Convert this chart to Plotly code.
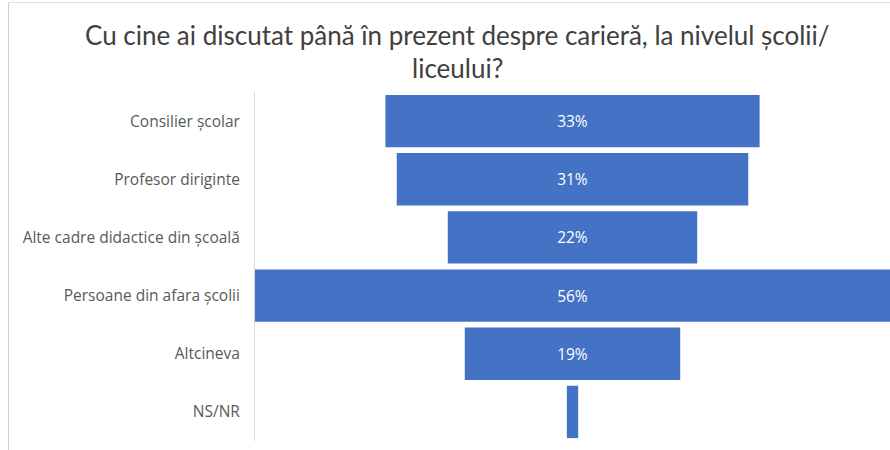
import plotly.graph_objects as go

categories = ["Consilier școlar", "Profesor diriginte", "Alte cadre didactice din școală",
              "Persoane din afara școlii", "Altcineva", "NS/NR"]
values = [33, 31, 22, 56, 19, 1]
labels = ["33%", "31%", "22%", "56%", "19%", ""]
title_lines = ["Cu cine ai discutat până în prezent despre carieră, la nivelul școlii/", "liceului?"]

W, H = 890, 450
L, R = 255, 890      # plot area in px
T, B = 92, 441

def px(x):
    return (x - L) / (R - L)

def py(y):
    return 1 + (T - y) / (B - T)

fig = go.Figure(go.Bar(
    y=categories,
    x=values,
    base=[-v / 2 for v in values],
    orientation="h",
    marker=dict(color="#4472C4", line=dict(width=0)),
    text=labels,
    textposition="inside",
    insidetextanchor="middle",
    textfont=dict(color="white", size=15.5, family="Open Sans"),
    hoverinfo="skip",
    cliponaxis=True,
))

fig.update_layout(
    width=W, height=H,
    margin=dict(l=L, r=W - R, t=T, b=H - B, pad=0),
    paper_bgcolor="white", plot_bgcolor="white",
    font=dict(family="Open Sans", color="#595959"),
    showlegend=False,
    bargap=0.1,
    xaxis=dict(range=[-28, 28], visible=False, fixedrange=True),
    yaxis=dict(autorange="reversed", showline=True, linecolor="#d9d9d9", linewidth=1,
               ticks="", showgrid=False, tickfont=dict(size=15.5, color="#595959", family="Open Sans"),
               ticklabelstandoff=11, fixedrange=True),
    annotations=[
        dict(text=title_lines[0], x=px(457), y=py(35), xref="paper", yref="paper",
             yanchor="middle", xanchor="center", showarrow=False,
             font=dict(size=26, color="#404040", family="Lato")),
        dict(text=title_lines[1], x=px(457), y=py(68), xref="paper", yref="paper",
             yanchor="middle", xanchor="center", showarrow=False,
             font=dict(size=26, color="#404040", family="Lato")),
    ],
    shapes=[
        dict(type="line", xref="paper", yref="paper", x0=px(8.5), x1=px(8.5), y0=py(2), y1=py(450),
             line=dict(color="#d0d0d0", width=1)),
        dict(type="line", xref="paper", yref="paper", x0=px(8), x1=px(890), y0=py(2.5), y1=py(2.5),
             line=dict(color="#e0e0e0", width=1)),
    ],
)

fig.write_html("out.html", config={"displayModeBar": False},
               post_script="document.body.style.margin='0';document.body.style.overflow='hidden';")
